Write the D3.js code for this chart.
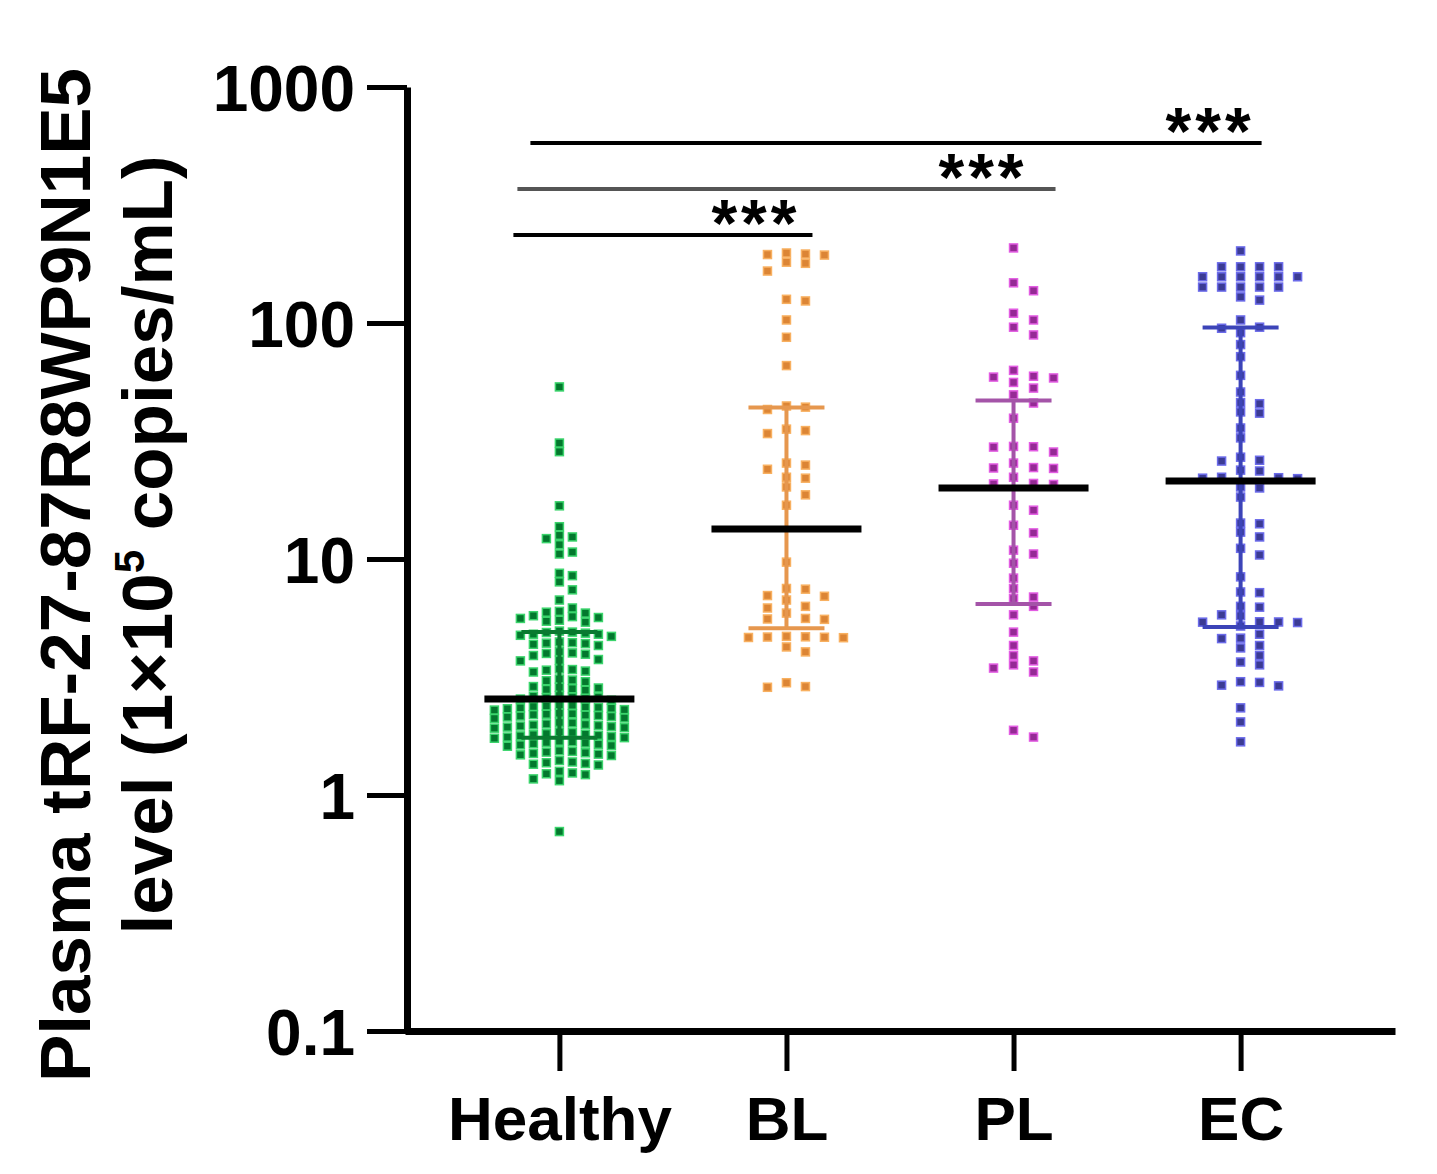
<!DOCTYPE html>
<html>
<head>
<meta charset="utf-8">
<script src="https://cdn.jsdelivr.net/npm/d3@7"></script>
<style>
  body { margin: 0; background: #fff; }
  text { font-family: "Liberation Sans", Arial, sans-serif; font-weight: bold; }
</style>
</head>
<body>
<svg id="chart" width="1437" height="1174"></svg>
<script>
// values (1x10^5 copies/mL)
var categories = ["Healthy", "BL", "PL", "EC"];

var healthy = [53.6, 31.0, 28.5, 16.8, 13.7, 12.6, 12.4, 12.2, 11.5, 10.7, 10.5, 8.7, 8.5, 8.0, 7.4, 6.7, 6.2, 6.0, 5.95, 5.9,
  5.75, 5.7, 5.65, 5.6, 5.5, 5.45, 5.4,
  4.95, 4.9, 4.88, 4.85, 4.8, 4.8, 4.75, 4.7,
  4.45, 4.42, 4.4, 4.38, 4.35, 4.3,
  4.05, 4.0, 3.98, 3.95, 3.9,
  3.75, 3.72, 3.7,
  3.42, 3.4, 3.38, 3.35, 3.32,
  3.1, 3.07, 3.05, 3.02,
  2.88, 2.86, 2.84, 2.82, 2.8, 2.78,
  2.64, 2.62, 2.6, 2.6, 2.58, 2.56, 2.55, 2.52,
  2.41, 2.4, 2.38, 2.37, 2.36, 2.35, 2.34, 2.33, 2.32, 2.3, 2.29,
  2.22, 2.21, 2.2, 2.19, 2.18, 2.17, 2.16, 2.15, 2.14, 2.12, 2.11,
  2.03, 2.02, 2.0, 1.99, 1.98, 1.97, 1.96, 1.95, 1.94, 1.93, 1.92,
  1.85, 1.84, 1.82, 1.81, 1.8, 1.79, 1.78, 1.77, 1.76, 1.75, 1.74,
  1.69, 1.68, 1.67, 1.66, 1.65, 1.64, 1.63, 1.62, 1.61,
  1.54, 1.53, 1.52, 1.51, 1.5, 1.49, 1.48, 1.47,
  1.4, 1.38, 1.37, 1.36, 1.35, 1.34,
  1.26, 1.24, 1.23, 1.22,
  1.17, 1.15,
  0.70];

var bl = [196, 198, 194, 195, 181, 179, 166, 126, 124, 103, 87, 66, 44.5, 44, 43, 35.5, 35, 34, 25.5, 25, 24,
  22.2, 22, 20.2, 18.7, 16.9, 9.7, 7.5, 7.45, 7.0, 6.95, 6.7, 6.3, 6.2, 5.9, 5.6, 5.57, 5.55,
  4.7, 4.68, 4.67, 4.66, 4.65, 4.64, 4.24, 4.04, 2.99, 2.88, 2.86];

var pl = [208, 148, 137, 110, 103, 96, 89, 63, 59, 59.5, 58.5, 56, 53, 49.6, 45.8, 39.5, 30, 29.9, 29.8, 28.4,
  25.5, 24.4, 24.3, 24.2, 22.2, 20.9, 20.8, 20.7, 16.9, 16.1, 13.9, 12.9, 10.9, 10.5, 9.6, 8.3, 7.5,
  6.9, 6.8, 6.3, 5.8, 4.9, 4.3, 3.9, 3.7, 3.56, 3.45, 3.32, 1.88, 1.76];

var ec = [202, 173, 173, 173, 173, 157, 157, 157, 157, 157, 157, 142, 142, 142, 142, 142, 129, 125, 103, 96, 95,
  91, 81, 72, 60, 51, 46, 45.5, 42, 41.5, 35.9, 32.6, 26.2, 26.0, 27, 23.8, 23.6, 22, 22.1, 21.9, 22.2,
  20.2, 20.0, 18.3, 14.2, 14.1, 13, 12.4, 11.1, 10.4, 8.4, 7.25, 7.2, 6.3, 6.25, 5.8, 5.75, 5.4, 5.42,
  5.38, 5.41, 5.2, 4.8, 4.6, 4.62, 4.3, 4.2, 3.9, 3.66, 3.56, 3.0, 3.02, 2.92, 2.9, 2.34, 2.04, 1.68];

var groups = [healthy, bl, pl, ec];
var centers = [2.55, 13.4, 20.0, 21.4];
var errHigh = [4.9, 43.8, 46.9, 95.7];
var errLow = [1.75, 5.09, 6.44, 5.15];

var yTicks = [0.1, 1, 10, 100, 1000];
var yTickLabels = ["0.1", "1", "10", "100", "1000"];

var comparisons = [["Healthy", "EC", "***"], ["Healthy", "PL", "***"], ["Healthy", "BL", "***"]];

var fills = ["#03782d", "#dc8535", "#952a95", "#3b3b94"];
var edges = ["#3bd46c", "#f8b060", "#e25ce2", "#6b6bea"];
var barColors = ["#0a7a30", "#e6974e", "#a454a8", "#3c44b8"];
var steps = [13, 19, 20, 19];

var svg = d3.select("#chart");

var y = d3.scaleLog().domain([0.1, 1000]).range([1031, 87]);
var x = d3.scalePoint().domain(categories).range([405, 1395]).padding(0.68);

// greedy column beeswarm
function swarm(values, step, h) {
  var placed = [];
  values.slice().sort(function(a, b) { return b - a; }).forEach(function(v) {
    var py = y(v);
    for (var k = 0; ; k++) {
      var off = k === 0 ? 0 : (k % 2 ? 1 : -1) * Math.ceil(k / 2) * step / 2;
      var ok = placed.every(function(p) {
        return Math.abs(p.dx - off) >= step || Math.abs(p.py - py) >= h;
      });
      if (ok) { placed.push({ v: v, py: py, dx: off }); break; }
    }
  });
  return placed;
}

/* points */
groups.forEach(function(vals, i) {
  var cx = x(categories[i]);
  var pts = swarm(vals, steps[i], i === 0 ? 8 : 9);
  svg.append("g").selectAll("rect")
    .data(pts)
    .enter().append("rect")
    .attr("x", function(d) { return cx + d.dx - 4; })
    .attr("y", function(d) { return d.py - 4; })
    .attr("width", 8)
    .attr("height", 8)
    .attr("fill", fills[i])
    .attr("stroke", edges[i])
    .attr("stroke-width", 1.5);
});

/* error bars */
var eb = svg.append("g");
categories.forEach(function(c, i) {
  var cx = x(c);
  eb.append("line").attr("x1", cx).attr("x2", cx)
    .attr("y1", y(errHigh[i])).attr("y2", y(errLow[i]))
    .attr("stroke", barColors[i]).attr("stroke-width", 4);
  [errHigh[i], errLow[i]].forEach(function(v) {
    eb.append("line").attr("x1", cx - 38).attr("x2", cx + 38)
      .attr("y1", y(v)).attr("y2", y(v))
      .attr("stroke", barColors[i]).attr("stroke-width", 4);
  });
});

/* central lines */
svg.append("g").selectAll("line")
  .data(centers)
  .enter().append("line")
  .attr("x1", function(d, i) { return x(categories[i]) - 75; })
  .attr("x2", function(d, i) { return x(categories[i]) + 75; })
  .attr("y1", function(d) { return y(d); })
  .attr("y2", function(d) { return y(d); })
  .attr("stroke", "#000")
  .attr("stroke-width", 7);

/* axes */
var yAxis = svg.append("g")
  .attr("transform", "translate(407,0)")
  .call(d3.axisLeft(y).tickValues(yTicks)
    .tickFormat(function(d, i) { return yTickLabels[i]; })
    .tickSize(40).tickSizeOuter(0).tickPadding(12));
yAxis.select(".domain").attr("stroke-width", 7);
yAxis.selectAll(".tick line").attr("stroke-width", 5);
yAxis.selectAll(".tick text").attr("fill", "#000").style("font-size", "64px").attr("dy", "0.36em");

var xAxis = svg.append("g")
  .attr("transform", "translate(0,1031)")
  .call(d3.axisBottom(x).tickSize(40).tickSizeOuter(0).tickPadding(25));
xAxis.select(".domain").attr("stroke-width", 7);
xAxis.selectAll(".tick line").attr("stroke-width", 5);
xAxis.selectAll(".tick text").attr("fill", "#000").style("font-size", "62px");

/* y title */
svg.append("text")
  .attr("transform", "translate(90,575) rotate(-90)")
  .attr("text-anchor", "middle")
  .style("font-size", "71px")
  .text("Plasma tRF-27-87R8WP9N1E5");

var t2 = svg.append("text")
  .attr("transform", "translate(172,545) rotate(-90)")
  .attr("text-anchor", "middle")
  .style("font-size", "71px");
t2.append("tspan").text("level (1\u00d710");
t2.append("tspan").attr("dy", -28).style("font-size", "42px").text("5");
t2.append("tspan").attr("dy", 28).text(" copies/mL)");

/* significance */
var leftPad = [29, 42, 46], rightPad = [21, 42, 26];
comparisons.forEach(function(c, i) {
  var ly = 143 + i * 46;
  var x1 = x(c[0]) - leftPad[i];
  var x2 = x(c[1]) + rightPad[i];
  svg.append("line").attr("x1", x1).attr("x2", x2).attr("y1", ly).attr("y2", ly)
    .attr("stroke", i === 1 ? "#555" : "#000").attr("stroke-width", 4);
  svg.append("text").attr("x", x(c[1]) + 14).attr("y", ly + 11)
    .attr("text-anchor", "end")
    .style("font-size", "66px")
    .style("letter-spacing", "4px")
    .text(c[2]);
});
</script>
</body>
</html>
